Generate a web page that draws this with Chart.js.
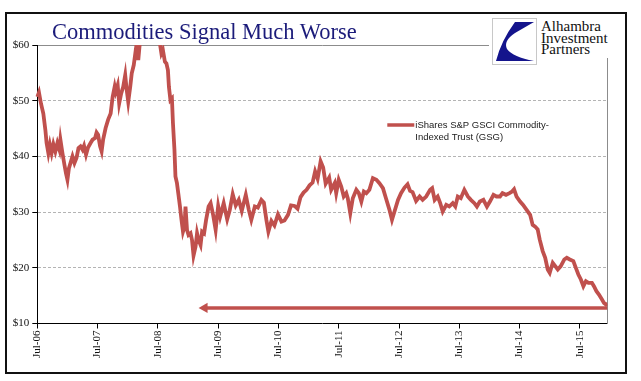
<!DOCTYPE html>
<html>
<head>
<meta charset="utf-8">
<script src="https://cdn.jsdelivr.net/npm/chart.js@4.4.0/dist/chart.umd.min.js"></script>
<style>
  html, body { margin: 0; padding: 0; background: #fff; }
  body { width: 641px; height: 381px; position: relative; overflow: hidden; }
  #c { position: absolute; left: 0; top: 0; }
  #frame { position: absolute; left: 5px; top: 12px; width: 622px; height: 362px; box-sizing: border-box; border: 2px solid #111; pointer-events: none; }
  #title { position: absolute; left: 52px; top: 20.5px; font-family: "Liberation Serif", "Times New Roman", serif; font-size: 22.5px; line-height: 22.5px; color: #1b1b7a; white-space: nowrap; }
  #cover { position: absolute; left: 489px; top: 14px; width: 131px; height: 44px; background: #fff; }
  #logobox { position: absolute; left: 492px; top: 18px; width: 45px; height: 47px; box-sizing: border-box; border: 1px solid #c8c8c8; background: #fff; }
  #logotext { position: absolute; left: 541px; top: 21px; font-family: "Liberation Serif", "Times New Roman", serif; font-size: 15px; line-height: 11.7px; color: #111; white-space: nowrap; }
</style>
</head>
<body>
<canvas id="c" width="641" height="381"></canvas>
<div id="cover"></div>
<div id="logobox">
  <svg width="43" height="45" viewBox="0 0 43 45">
    <path d="M 22 3 L 41 3 L 22 14 Q 10 22 14 30 Q 20 38 41 42 L 3 42 Q 8 22 22 3 Z" fill="#14148c"/>
  </svg>
</div>
<div id="logotext">Alhambra<br>Investment<br>Partners</div>
<div id="title">Commodities Signal Much Worse</div>
<div id="frame"></div>
<script>
// ---- data (month offsets since Jul 2006, GSG closing price in $) ----
const monthIdx = [
  0, 0.33, 0.73, 1.2, 1.6, 1.85, 2.2, 2.5, 2.85, 3.2, 3.6, 4, 4.4, 4.6, 5, 5.4, 5.7, 6, 6.3, 6.6,
  7, 7.4, 7.8, 8.2, 8.6, 9, 9.3, 9.7, 10.1, 10.6, 11, 11.5, 11.8, 12.1, 12.5, 12.8, 13.1, 13.6, 14.1, 14.6,
  15, 15.4, 15.6, 16, 16.3, 16.7, 17.1, 17.5, 17.8, 18.1, 18.5, 18.8, 19.2, 19.6, 19.9, 20.1, 20.4, 21, 21.5, 22,
  22.5, 23, 23.5, 24, 24.3, 24.4, 24.7, 25, 25.4, 25.7, 26, 26.2, 26.5, 26.8, 27, 27.3, 27.5, 27.8, 28.1, 28.4,
  28.7, 29, 29.3, 29.5, 29.8, 30.1, 30.5, 30.8, 31.1, 31.5, 31.8, 32.1, 32.5, 32.8, 33.2, 33.6, 34.1, 34.5, 35, 35.5,
  36, 36.4, 37.1, 37.8, 38.3, 38.9, 39.5, 40.1, 40.7, 41.5, 42.1, 42.6, 43.3, 43.9, 44.6, 45.1, 45.6, 46, 46.6, 47.2,
  47.9, 48.6, 49.2, 49.9, 50.5, 51.2, 51.8, 52.4, 53, 53.6, 54.2, 54.8, 55.3, 55.8, 56.4, 56.9, 57.4, 58.1, 58.5, 59.2,
  59.5, 60, 60.5, 61, 61.5, 61.8, 62.3, 62.8, 63.5, 64, 64.5, 65, 65.5, 66.1, 66.8, 67.5, 68.1, 68.8, 69.4, 70.1,
  70.6, 71.1, 71.8, 72.4, 73.1, 73.7, 74.2, 74.7, 75.4, 76.1, 76.7, 77.4, 78.2, 78.6, 79.1, 79.7, 80.2, 80.7, 81.4, 82,
  82.7, 83.2, 83.7, 84.3, 85, 85.7, 86.3, 87, 87.5, 88.1, 88.8, 89.5, 90.1, 90.8, 91.4, 92.1, 92.6, 93.3, 94, 94.5,
  94.9, 95.4, 96.1, 96.7, 97.4, 98.1, 98.6, 99.1, 99.6, 100, 100.6, 101.1, 101.6, 102, 102.6, 103.1, 103.6, 104.2, 104.9, 105.4,
  106, 106.7, 107.2, 107.7, 108.2, 108.7, 109.2, 109.7, 110.4, 110.8, 111.3, 111.8, 112.4, 112.8, 113.2, 113.5
];
const gsgPrice = [
  50.7, 51.5, 49.5, 47.7, 44.8, 42.4, 40.6, 42.1, 40.6, 42.2, 40.9, 42.4, 41.2, 43.0, 40.6, 38.5, 37.0, 35.8, 37.9, 38.8,
  40.0, 38.8, 39.7, 41.5, 41.8, 41.2, 41.9, 40.3, 41.6, 42.4, 43.0, 43.3, 44.3, 43.9, 41.8, 40.9, 43.0, 45.1, 46.6, 47.7,
  50.7, 52.5, 51.6, 52.8, 49.5, 51.3, 52.5, 54.6, 51.9, 49.8, 52.5, 54.9, 56.4, 59.1, 61.0, 57.3, 60.3, 63.0, 62.0, 66.0,
  68.0, 72.0, 73.0, 70.0, 64.0, 60.3, 58.5, 59.1, 57.0, 56.7, 55.5, 52.5, 50.1, 50.4, 46.0, 41.2, 36.4, 35.2, 33.1, 31.0,
  28.6, 26.5, 27.4, 31.0, 26.8, 25.9, 26.2, 25.0, 22.2, 23.8, 26.2, 25.0, 24.1, 26.5, 26.2, 28.6, 31.0, 31.6, 29.5, 26.8,
  31.1, 29.2, 31.6, 28.7, 30.3, 33.2, 31.2, 32.2, 30.2, 33.1, 30.4, 28.6, 31.0, 30.8, 32.2, 31.7, 28.6, 26.5, 28.4, 27.6,
  29.6, 28.3, 28.5, 29.5, 31.2, 31.1, 30.6, 32.7, 33.5, 34.0, 34.8, 35.3, 37.3, 36.0, 39.1, 38.0, 35.1, 36.2, 34.0, 35.2,
  33.4, 35.8, 34.6, 32.8, 33.4, 32.5, 29.8, 32.5, 34.0, 33.4, 31.9, 33.7, 33.4, 34.0, 36.1, 35.8, 35.2, 34.3, 32.5, 30.4,
  28.6, 30.1, 32.2, 33.4, 34.4, 35.0, 33.8, 33.6, 32.0, 32.8, 32.2, 32.8, 34.0, 34.3, 32.2, 32.8, 31.6, 30.1, 31.3, 31.0,
  31.6, 31.0, 32.8, 32.5, 34.0, 32.8, 32.2, 31.6, 31.0, 31.9, 32.2, 31.0, 31.9, 33.1, 32.8, 32.8, 33.4, 33.1, 33.4, 33.7,
  34.1, 32.8, 31.9, 31.3, 30.4, 29.5, 27.7, 27.4, 26.9, 25.1, 23.0, 21.8, 19.7, 19.1, 20.9, 20.3, 19.7, 20.3, 21.5, 21.8,
  21.5, 21.2, 20.0, 18.8, 17.9, 16.7, 17.6, 17.3, 17.3, 16.7, 15.8, 15.2, 14.3, 13.7, 13.4, 13.6
];
const tickMonths = [0, 12, 24, 36, 48, 60, 72, 84, 96, 108];
const tickLabels = ["Jul-06", "Jul-07", "Jul-08", "Jul-09", "Jul-10", "Jul-11", "Jul-12", "Jul-13", "Jul-14", "Jul-15"];
const arrowX = [33.3, 113.5];
const arrowY = [12.8, 12.8];
const seriesName = ["iShares S&P GSCI Commodity-", "Indexed Trust (GSG)"];
const xMin = 0, xMax = 113.5;
const yMin = 10, yMax = 60, yStep = 10;

const RED = '#c0504d';

const legendPlugin = {
  id: 'customLegend',
  afterDraw(chart) {
    const ctx = chart.ctx;
    const a = chart.chartArea;
    const x0 = a.left + 350, y0 = a.top + 80;
    ctx.save();
    ctx.strokeStyle = RED;
    ctx.lineWidth = 3.5;
    ctx.beginPath();
    ctx.moveTo(x0, y0);
    ctx.lineTo(x0 + 27, y0);
    ctx.stroke();
    ctx.fillStyle = '#222';
    ctx.font = '9.5px "Liberation Sans", Arial, sans-serif';
    ctx.textBaseline = 'middle';
    ctx.textAlign = 'left';
    ctx.fillText(seriesName[0], x0 + 28, y0);
    ctx.fillText(seriesName[1], x0 + 28, y0 + 12);
    ctx.restore();
  }
};

const serif = '"Liberation Serif", "Times New Roman", serif';

new Chart(document.getElementById('c'), {
  type: 'line',
  data: {
    datasets: [
      {
        label: seriesName.join(' '),
        data: monthIdx.map((m, i) => ({ x: m, y: gsgPrice[i] })),
        borderColor: RED,
        borderWidth: 3.8,
        pointRadius: 0,
        tension: 0,
        clip: { left: 2, right: 0, top: 0, bottom: 2 }
      },
      {
        label: 'arrow',
        data: arrowX.map((m, i) => ({ x: m, y: arrowY[i] })),
        borderColor: RED,
        borderWidth: 3.5,
        pointRadius: [6, 0],
        pointStyle: 'triangle',
        rotation: -90,
        pointBackgroundColor: RED,
        pointBorderColor: RED,
        pointBorderWidth: 0,
        tension: 0,
        clip: 0
      }
    ]
  },
  options: {
    responsive: false,
    animation: false,
    devicePixelRatio: 1,
    layout: { padding: { left: 0, top: 45, right: 33.5, bottom: 0 } },
    plugins: { legend: { display: false }, tooltip: { enabled: false }, title: { display: false } },
    scales: {
      x: {
        type: 'linear',
        min: xMin, max: xMax,
        afterBuildTicks: (s) => { s.ticks = tickMonths.map(v => ({ value: v })); },
        afterFit: (s) => { s.height = 57.5; },
        grid: { drawOnChartArea: false, drawTicks: true, tickLength: 5, tickColor: '#000', color: '#000' },
        border: { display: true, color: '#000', width: 1 },
        ticks: {
          autoSkip: false, maxRotation: 90, minRotation: 90, padding: 2,
          color: '#111', font: { family: serif, size: 11 },
          callback: (v, i) => tickLabels[i]
        }
      },
      y: {
        min: yMin, max: yMax,
        afterBuildTicks: (s) => { const t = []; for (let v = yMin; v <= yMax; v += yStep) t.push({ value: v }); s.ticks = t; },
        afterFit: (s) => { s.width = 37.3; },
        grid: {
          drawOnChartArea: true, drawTicks: true, tickLength: 5, tickColor: '#000', lineWidth: 1,
          color: (c) => (c.tick && c.tick.value === yMin) ? 'rgba(0,0,0,0)' : ((c.tick && c.tick.value === yMax) ? '#8c8c8c' : '#b4b4b4')
        },
        border: {
          display: true, color: '#000', width: 1,
          dash: (c) => (c.tick && c.tick.value === yMax) ? [] : [3, 2]
        },
        ticks: {
          padding: 3, color: '#111', font: { family: serif, size: 11 },
          callback: (v) => '$' + v
        }
      },
      yR: {
        position: 'right',
        min: yMin, max: yMax,
        afterFit: (s) => { s.width = 0; },
        grid: { display: false },
        ticks: { display: false },
        border: { display: true, color: '#8c8c8c', width: 1 }
      }
    }
  },
  plugins: [legendPlugin]
});
</script>
</body>
</html>
